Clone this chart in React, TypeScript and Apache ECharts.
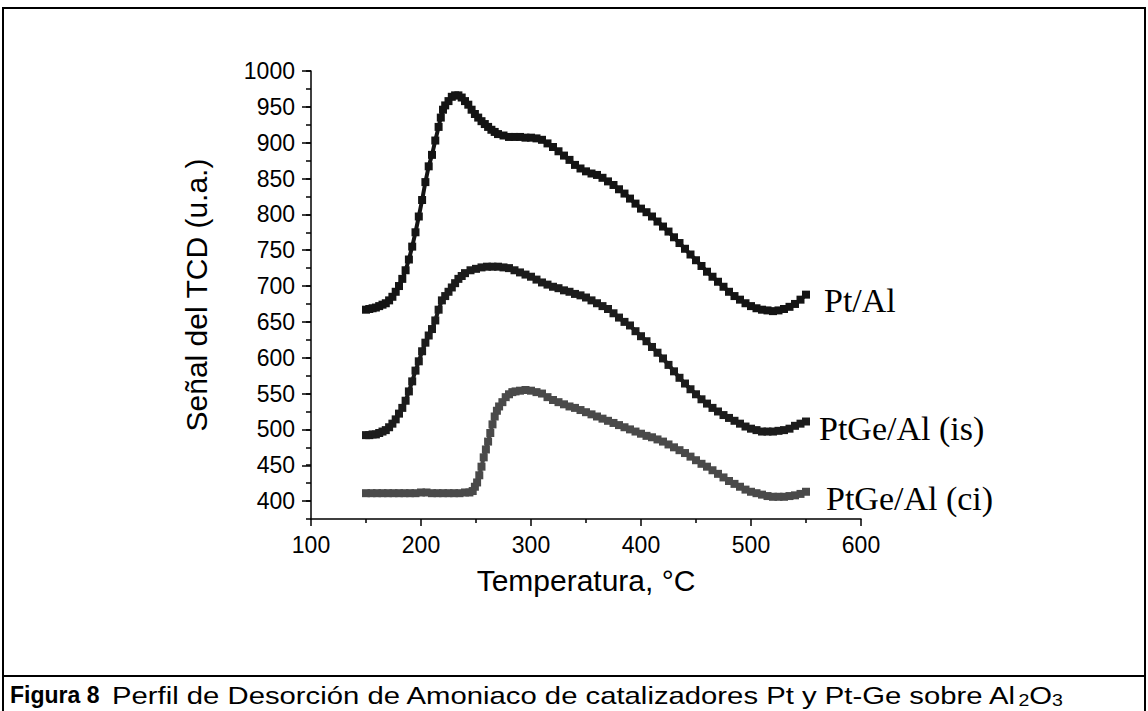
import React, { useEffect, useRef } from "react";
import * as echarts from "echarts";

// ---- Data ----
const ptT = [150,153,156,159,162,165,168,171,174,177,180,183,186,189,192,195,198,201,204,207,210,213,216,218,220,222,225,228,231,234,237,240,243,246,249,252,255,258,261,264,267,270,275,280,285,290,295,300,305,310,315,320,325,330,335,340,345,350,355,360,365,370,375,380,385,390,395,400,405,410,415,420,425,430,435,440,445,450,455,460,465,470,475,480,485,490,495,500,505,510,515,520,525,530,535,540,545,550];
const ptV = [667,668,669,670,672,674,676,680,685,692,700,710,722,737,755,775,797,820,845,867,883,903,922,935,946,952,958,964,966,966,963,958,953,946,940,935,930,926,922,918,915,912,910,908,908,908,907,907,906,904,899,894,888,882,876,869,864,860,857,855,851,846,841,835,829,822,815,808,803,797,790,783,776,768,760,752,744,736,728,720,713,706,699,692,686,681,676,672,669,667,666,665,666,668,671,675,681,688];

const isT = [150,153,156,159,162,165,168,171,174,177,180,183,186,189,192,195,198,201,204,207,210,213,216,219,222,225,228,231,234,237,240,245,250,255,260,265,270,275,280,285,290,295,300,305,310,315,320,325,330,335,340,345,350,355,360,365,370,375,380,385,390,395,400,405,410,415,420,425,430,435,440,445,450,455,460,465,470,475,480,485,490,495,500,505,510,515,520,525,530,535,540,545,550];
const isV = [492,492,493,493,495,497,499,503,508,514,522,530,540,553,567,582,595,609,621,631,640,652,667,680,686,692,698,704,710,714,718,722,724,726,727,727,727,726,725,722,719,716,713,709,705,702,699,697,694,692,689,687,684,680,676,672,668,662,656,650,645,637,630,623,615,607,599,590,581,572,564,556,549,542,536,530,525,520,516,512,508,504,501,499,497,497,497,498,499,501,505,508,511];

const ciT = [150,155,160,165,170,175,180,185,190,195,200,205,210,215,220,225,230,235,240,244,247,249,251,253,255,257,259,261,263,265,267,269,271,274,277,280,283,286,290,295,300,305,310,315,320,325,330,335,340,345,350,355,360,365,370,375,380,385,390,395,400,405,410,415,420,425,430,435,440,445,450,455,460,465,470,475,480,485,490,495,500,505,510,515,520,525,530,535,540,545,550];
const ciV = [411,411,411,411,411,411,411,411,411,411,412,412,411,411,411,411,411,411,412,412,414,420,426,436,448,461,472,483,495,507,518,526,532,538,545,549,552,553,554,555,554,552,550,545,541,538,535,532,530,527,524,521,518,515,512,509,506,503,500,497,494,491,489,486,483,479,475,471,467,462,457,452,448,443,438,433,428,424,420,416,413,411,409,407,406,406,406,407,408,410,413];

const seriesNames = ["Pt/Al", "PtGe/Al (is)", "PtGe/Al (ci)"];
const xTitle = "Temperatura, °C";
const yTitle = "Señal del TCD (u.a.)";
const captionBold = "Figura 8";
const captionText = "Perfil de Desorción de Amoniaco de catalizadores Pt y Pt-Ge sobre Al{s|2}O{s|3}";

const sans = "'Liberation Sans', Arial, sans-serif";
const serif = "'Liberation Serif', 'Times New Roman', serif";

function pairs(t: number[], v: number[]) {
  return t.map((x, i) => [x, v[i]]);
}

function makeSeries(name: string, data: number[][], color: string, offset: number[]) {
  return {
    name,
    type: "line",
    xAxisIndex: 0,
    yAxisIndex: 0,
    data,
    symbol: "rect",
    symbolSize: 8,
    showAllSymbol: true,
    itemStyle: { color },
    lineStyle: { color, width: 4 },
    endLabel: {
      show: true,
      formatter: name,
      fontFamily: serif,
      fontSize: 34,
      color: "#000",
      offset,
    },
    z: 3,
  };
}

export default function App() {
  const ref = useRef<HTMLDivElement>(null);
  useEffect(() => {
    const chart = echarts.init(ref.current!, null, { renderer: "svg" });
    const axisLine = { show: true, lineStyle: { color: "#000", width: 1.5 } };
    chart.setOption({
      animation: false,
      backgroundColor: "#fff",
      grid: [
        { left: 311, top: 71, width: 550, height: 448 },
        { left: 311, top: 71, width: 550, height: 430.1 },
      ],
      xAxis: [
        {
          type: "value",
          gridIndex: 0,
          min: 100,
          max: 600,
          interval: 100,
          axisLine,
          axisTick: { show: true, inside: false, length: 7, lineStyle: { color: "#000", width: 1.5 } },
          minorTick: { show: true, splitNumber: 2, length: 4, lineStyle: { color: "#000", width: 1.5 } },
          splitLine: { show: false },
          axisLabel: { fontFamily: sans, fontSize: 23, color: "#000", margin: 14, formatter: (v: number) => String(v) },
          name: xTitle,
          nameLocation: "middle",
          nameGap: 46,
          nameTextStyle: { fontFamily: sans, fontSize: 30, color: "#000" },
        },
        { type: "value", gridIndex: 1, min: 100, max: 600, show: false },
      ],
      yAxis: [
        {
          type: "value",
          gridIndex: 0,
          min: 375,
          max: 1000,
          interval: 25,
          axisLine,
          axisTick: { show: true, inside: false, length: 5, lineStyle: { color: "#000", width: 1.5 } },
          splitLine: { show: false },
          axisLabel: { show: false },
          name: yTitle,
          nameLocation: "middle",
          nameGap: 100,
          nameRotate: 90,
          nameTextStyle: { fontFamily: sans, fontSize: 30, color: "#000" },
        },
        {
          type: "value",
          gridIndex: 1,
          min: 400,
          max: 1000,
          interval: 50,
          axisLine: { show: false },
          axisTick: { show: true, inside: false, length: 9, lineStyle: { color: "#000", width: 1.5 } },
          splitLine: { show: false },
          axisLabel: { fontFamily: sans, fontSize: 23, color: "#000", margin: 16, formatter: (v: number) => String(v) },
        },
      ],
      series: [
        makeSeries(seriesNames[0], pairs(ptT, ptV), "#141414", [10, 6]),
        makeSeries(seriesNames[1], pairs(isT, isV), "#1c1c1c", [5, 7]),
        makeSeries(seriesNames[2], pairs(ciT, ciV), "#4a4a4a", [12, 7]),
      ],
      graphic: [
        {
          type: "rect",
          shape: { x: 3, y: 8, width: 1142, height: 720 },
          style: { fill: "none", stroke: "#000", lineWidth: 2 },
          silent: true,
        },
        {
          type: "line",
          shape: { x1: 3, y1: 676, x2: 1145, y2: 676 },
          style: { stroke: "#000", lineWidth: 2 },
          silent: true,
        },
        {
          type: "text",
          x: 10,
          y: 683,
          style: {
            text: captionBold,
            fontFamily: sans,
            fontSize: 23,
            fontWeight: "bold",
            fill: "#000",
          },
          silent: true,
        },
        {
          type: "text",
          x: 112,
          y: 683,
          scaleX: 1.22,
          style: {
            text: captionText,
            fontFamily: sans,
            fontSize: 24,
            fill: "#000",
            rich: {
              s: { fontFamily: sans, fontSize: 16, fill: "#000", padding: [10, 0, 0, 0] },
            },
          },
          silent: true,
        },
      ],
    });
    return () => chart.dispose();
  }, []);
  return (
    <div
      ref={ref}
      style={{ position: "fixed", left: 0, top: 0, width: 1148, height: 711, background: "#fff" }}
    />
  );
}
